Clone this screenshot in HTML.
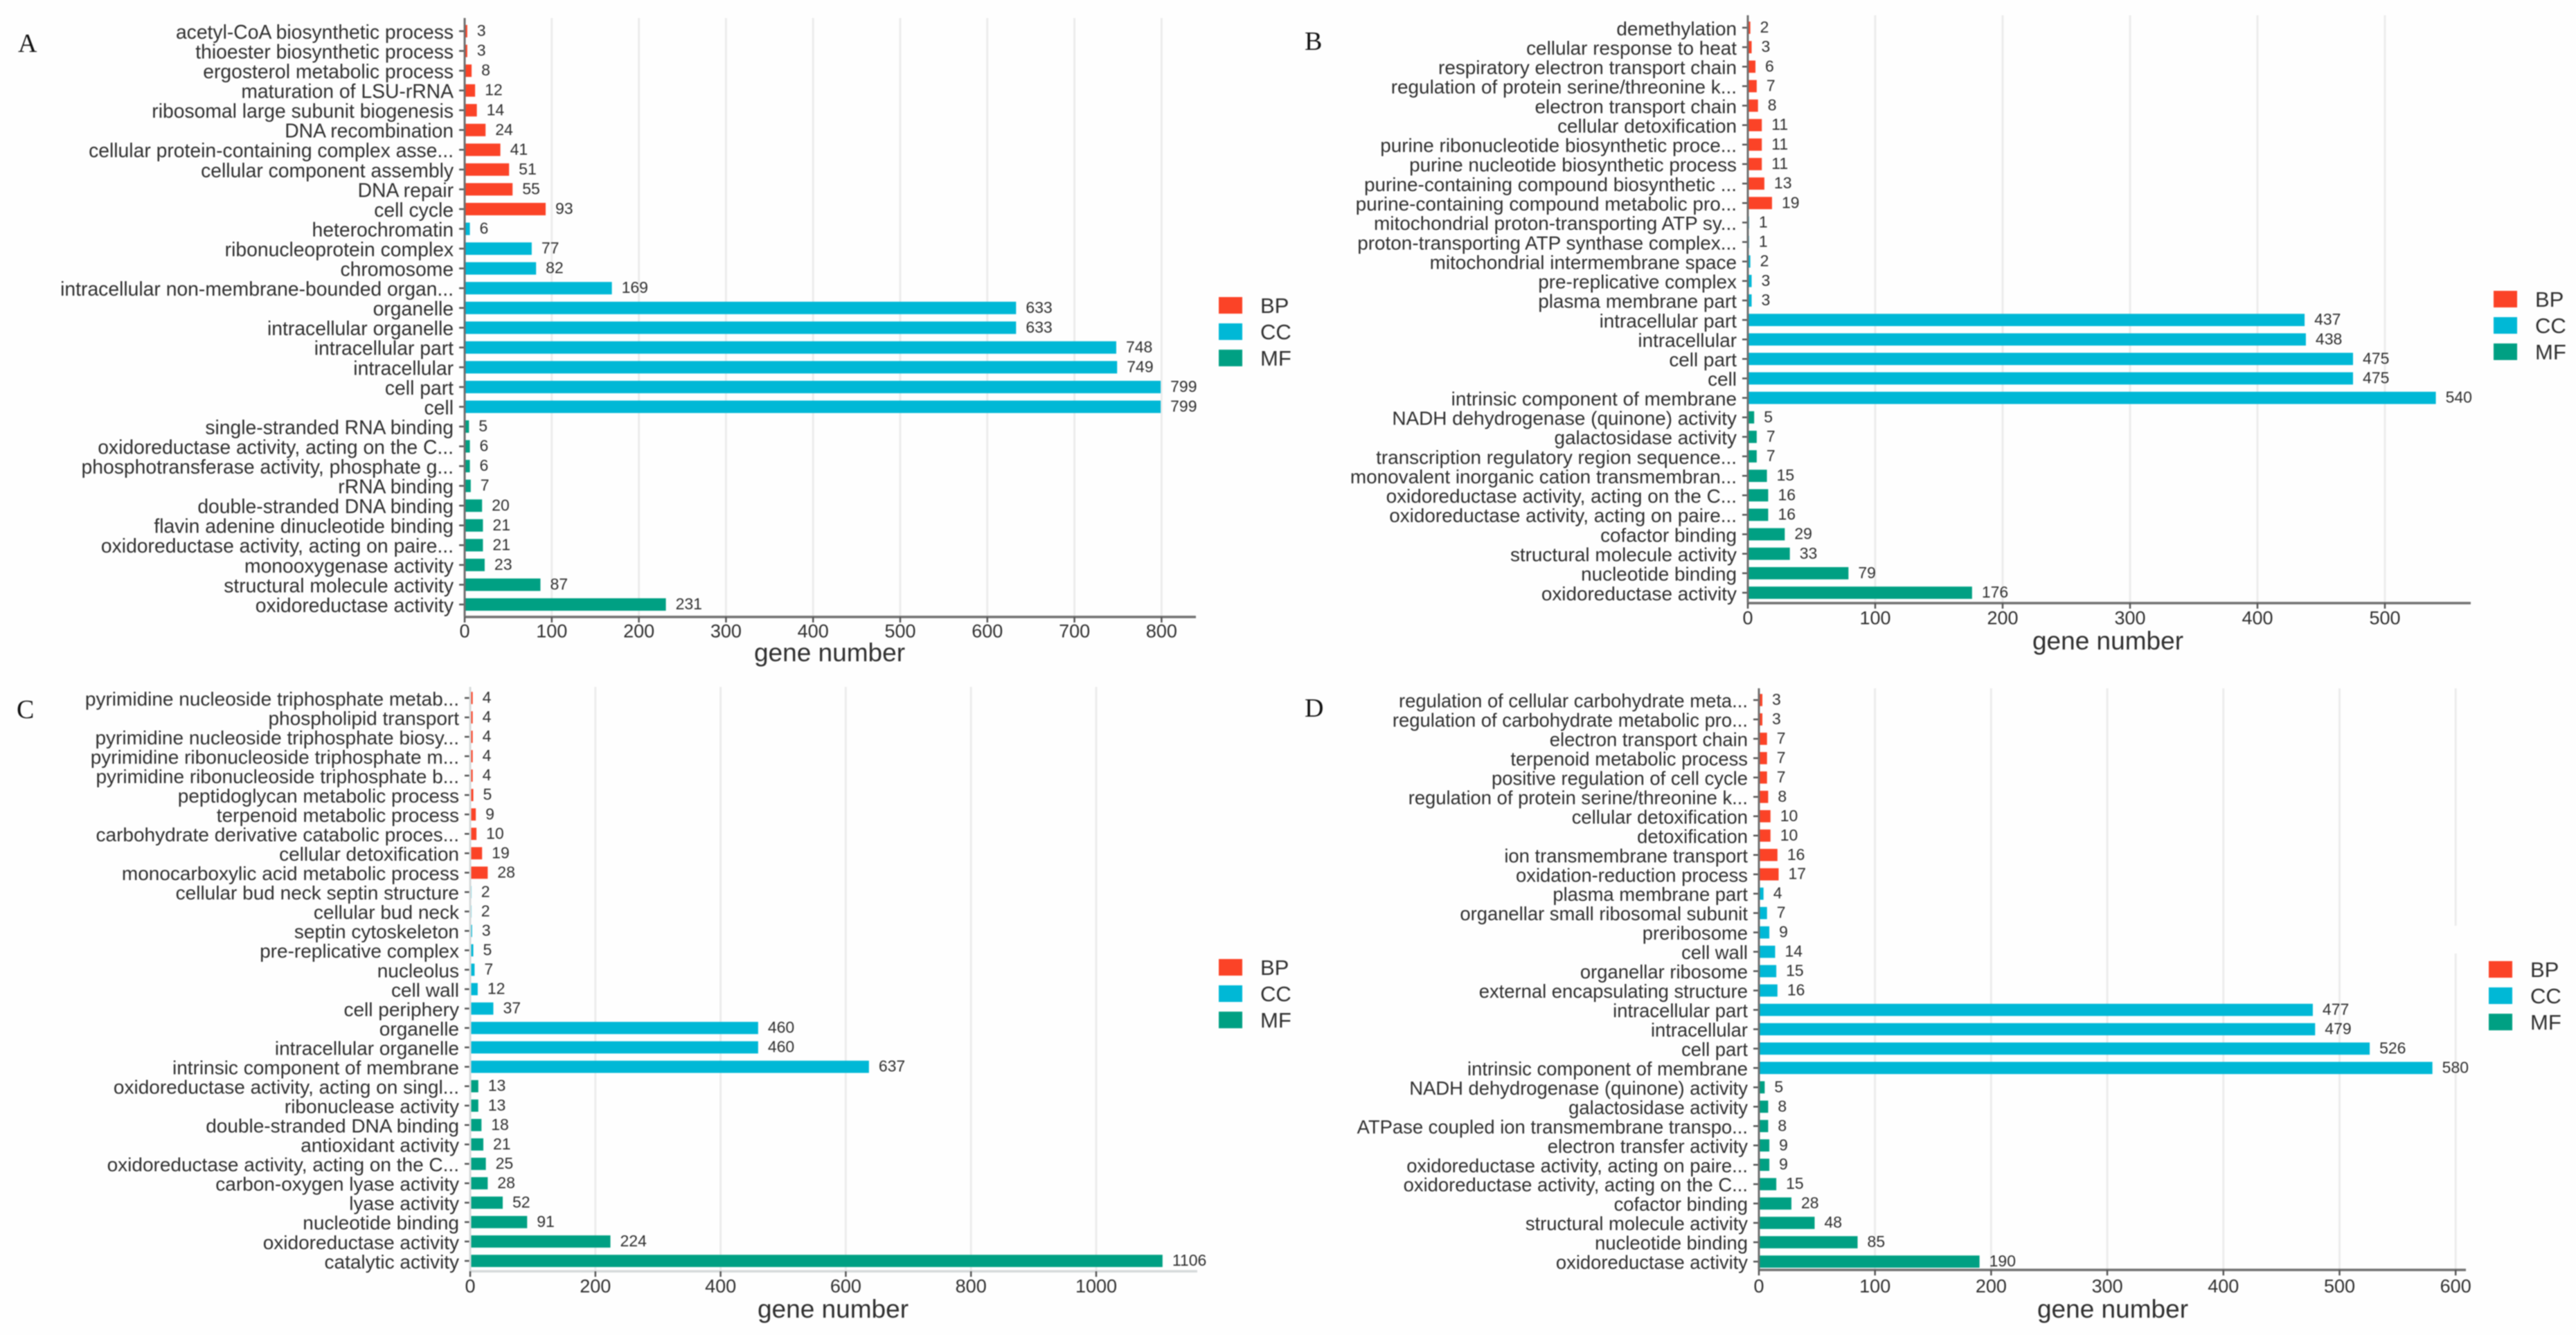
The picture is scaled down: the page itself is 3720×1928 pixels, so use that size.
<!DOCTYPE html>
<html lang="en">
<head>
<meta charset="utf-8">
<title>GO enrichment bar charts</title>
<style>
html,body{margin:0;padding:0;background:#fff;width:3720px;height:1928px;overflow:hidden}
svg{display:block;filter:blur(.8px)}
text{font-family:"Liberation Sans",sans-serif;fill:#2f2f2f}
</style>
</head>
<body>
<svg id="figure" xmlns="http://www.w3.org/2000/svg" width="3720" height="1928" viewBox="0 0 3720 1928">
<rect width="3720" height="1928" fill="#fefefe"/>
</svg>
<script>
const bpCategoriesA = ["acetyl-CoA biosynthetic process","thioester biosynthetic process","ergosterol metabolic process","maturation of LSU-rRNA","ribosomal large subunit biogenesis","DNA recombination","cellular protein-containing complex asse...","cellular component assembly","DNA repair","cell cycle"];
const bpValuesA = [3,3,8,12,14,24,41,51,55,93];
const ccCategoriesA = ["heterochromatin","ribonucleoprotein complex","chromosome","intracellular non-membrane-bounded organ...","organelle","intracellular organelle","intracellular part","intracellular","cell part","cell"];
const ccValuesA = [6,77,82,169,633,633,748,749,799,799];
const mfCategoriesA = ["single-stranded RNA binding","oxidoreductase activity, acting on the C...","phosphotransferase activity, phosphate g...","rRNA binding","double-stranded DNA binding","flavin adenine dinucleotide binding","oxidoreductase activity, acting on paire...","monooxygenase activity","structural molecule activity","oxidoreductase activity"];
const mfValuesA = [5,6,6,7,20,21,21,23,87,231];
const ticksA = [0,100,200,300,400,500,600,700,800];

const bpCategoriesB = ["demethylation","cellular response to heat","respiratory electron transport chain","regulation of protein serine/threonine k...","electron transport chain","cellular detoxification","purine ribonucleotide biosynthetic proce...","purine nucleotide biosynthetic process","purine-containing compound biosynthetic ...","purine-containing compound metabolic pro..."];
const bpValuesB = [2,3,6,7,8,11,11,11,13,19];
const ccCategoriesB = ["mitochondrial proton-transporting ATP sy...","proton-transporting ATP synthase complex...","mitochondrial intermembrane space","pre-replicative complex","plasma membrane part","intracellular part","intracellular","cell part","cell","intrinsic component of membrane"];
const ccValuesB = [1,1,2,3,3,437,438,475,475,540];
const mfCategoriesB = ["NADH dehydrogenase (quinone) activity","galactosidase activity","transcription regulatory region sequence...","monovalent inorganic cation transmembran...","oxidoreductase activity, acting on the C...","oxidoreductase activity, acting on paire...","cofactor binding","structural molecule activity","nucleotide binding","oxidoreductase activity"];
const mfValuesB = [5,7,7,15,16,16,29,33,79,176];
const ticksB = [0,100,200,300,400,500];

const bpCategoriesC = ["pyrimidine nucleoside triphosphate metab...","phospholipid transport","pyrimidine nucleoside triphosphate biosy...","pyrimidine ribonucleoside triphosphate m...","pyrimidine ribonucleoside triphosphate b...","peptidoglycan metabolic process","terpenoid metabolic process","carbohydrate derivative catabolic proces...","cellular detoxification","monocarboxylic acid metabolic process"];
const bpValuesC = [4,4,4,4,4,5,9,10,19,28];
const ccCategoriesC = ["cellular bud neck septin structure","cellular bud neck","septin cytoskeleton","pre-replicative complex","nucleolus","cell wall","cell periphery","organelle","intracellular organelle","intrinsic component of membrane"];
const ccValuesC = [2,2,3,5,7,12,37,460,460,637];
const mfCategoriesC = ["oxidoreductase activity, acting on singl...","ribonuclease activity","double-stranded DNA binding","antioxidant activity","oxidoreductase activity, acting on the C...","carbon-oxygen lyase activity","lyase activity","nucleotide binding","oxidoreductase activity","catalytic activity"];
const mfValuesC = [13,13,18,21,25,28,52,91,224,1106];
const ticksC = [0,200,400,600,800,1000];

const bpCategoriesD = ["regulation of cellular carbohydrate meta...","regulation of carbohydrate metabolic pro...","electron transport chain","terpenoid metabolic process","positive regulation of cell cycle","regulation of protein serine/threonine k...","cellular detoxification","detoxification","ion transmembrane transport","oxidation-reduction process"];
const bpValuesD = [3,3,7,7,7,8,10,10,16,17];
const ccCategoriesD = ["plasma membrane part","organellar small ribosomal subunit","preribosome","cell wall","organellar ribosome","external encapsulating structure","intracellular part","intracellular","cell part","intrinsic component of membrane"];
const ccValuesD = [4,7,9,14,15,16,477,479,526,580];
const mfCategoriesD = ["NADH dehydrogenase (quinone) activity","galactosidase activity","ATPase coupled ion transmembrane transpo...","electron transfer activity","oxidoreductase activity, acting on paire...","oxidoreductase activity, acting on the C...","cofactor binding","structural molecule activity","nucleotide binding","oxidoreductase activity"];
const mfValuesD = [5,8,8,9,9,15,28,48,85,190];
const ticksD = [0,100,200,300,400,500,600];

const legendKeys = ["BP","CC","MF"];
const legendColors = ["#fb4327","#00b8d6","#00a083"];

const svgNS = "http://www.w3.org/2000/svg";
const root = document.getElementById("figure");

function node(tag, parent) {
  const el = document.createElementNS(svgNS, tag);
  parent.appendChild(el);
  return el;
}

function drawPanel(cfg) {
  const xScale = v => cfg.x0 + v * cfg.pxPerUnit;
  const cats = [].concat(cfg.bpCats, cfg.ccCats, cfg.mfCats);
  const vals = [].concat(cfg.bpVals, cfg.ccVals, cfg.mfVals);
  const yScale = i => cfg.yFirst + i * (cfg.yLast - cfg.yFirst) / (cats.length - 1);
  const colorOf = i => i < cfg.bpCats.length ? legendColors[0] : i < cfg.bpCats.length + cfg.ccCats.length ? legendColors[1] : legendColors[2];
  const rowH = (cfg.yLast - cfg.yFirst) / (cats.length - 1);
  const barH = rowH * 0.63;

  const g = node("g", root);
  
  

  const letter = node("text", g);
  
  
  letter.setAttribute("x", cfg.letterX);
  letter.setAttribute("y", cfg.letterY);
  letter.setAttribute("style", 'font-family:"Liberation Serif",serif;font-size:38px;fill:#111');
  letter.textContent = cfg.id;

  cfg.ticks.forEach(t => {
    if (t === 0) return;
    const grid = node("line", g);
    
    
    grid.setAttribute("x1", xScale(t));
    grid.setAttribute("x2", xScale(t));
    grid.setAttribute("y1", cfg.axisTop);
    grid.setAttribute("y2", cfg.axisY);
    grid.setAttribute("stroke", "#ececec");
    grid.setAttribute("stroke-width", "3");
  });

  if (cfg.gridGap) {
    const gap = node("rect", g);
    
    
    gap.setAttribute("x", xScale(cfg.gridGap.tick) - 4);
    gap.setAttribute("y", cfg.gridGap.top);
    gap.setAttribute("width", 8);
    gap.setAttribute("height", cfg.gridGap.height);
    gap.setAttribute("fill", "#fefefe");
  }

  cats.forEach((c, i) => {
    const y = yScale(i);
    const bar = node("rect", g);
    
    
    bar.setAttribute("x", xScale(0));
    bar.setAttribute("y", y - barH / 2);
    bar.setAttribute("width", xScale(vals[i]) - xScale(0));
    bar.setAttribute("height", barH);
    bar.setAttribute("fill", colorOf(i));

    const tick = node("line", g);
    
    
    tick.setAttribute("x1", cfg.x0 - 8);
    tick.setAttribute("x2", cfg.x0);
    tick.setAttribute("y1", y);
    tick.setAttribute("y2", y);
    tick.setAttribute("stroke", "#555");
    tick.setAttribute("stroke-width", "2.5");

    const label = node("text", g);
    
    
    label.setAttribute("x", cfg.x0 - 16);
    label.setAttribute("y", y + 1);
    label.setAttribute("dy", "0.35em");
    label.setAttribute("text-anchor", "end");
    label.setAttribute("font-size", cfg.labelSize);
    label.textContent = c;

    const value = node("text", g);
    
    
    value.setAttribute("x", xScale(vals[i]) + 14);
    value.setAttribute("y", y - 1);
    value.setAttribute("dy", "0.35em");
    value.setAttribute("font-size", cfg.valueSize);
    value.textContent = vals[i];
  });

  const yAxis = node("line", g);
  
  
  yAxis.setAttribute("x1", cfg.x0);
  yAxis.setAttribute("x2", cfg.x0);
  yAxis.setAttribute("y1", cfg.axisTop);
  yAxis.setAttribute("y2", cfg.axisY);
  yAxis.setAttribute("stroke", cfg.axisColor);
  yAxis.setAttribute("stroke-width", "3");

  const xAxis = node("line", g);
  
  
  xAxis.setAttribute("x1", cfg.x0);
  xAxis.setAttribute("x2", cfg.axisRight);
  xAxis.setAttribute("y1", cfg.axisY);
  xAxis.setAttribute("y2", cfg.axisY);
  xAxis.setAttribute("stroke", cfg.axisColor);
  xAxis.setAttribute("stroke-width", "3.5");

  cfg.ticks.forEach(t => {
    const mark = node("line", g);
    
    
    mark.setAttribute("x1", xScale(t));
    mark.setAttribute("x2", xScale(t));
    mark.setAttribute("y1", cfg.axisY);
    mark.setAttribute("y2", cfg.axisY + 8);
    mark.setAttribute("stroke", "#555");
    mark.setAttribute("stroke-width", "2.5");

    const tl = node("text", g);
    
    
    tl.setAttribute("x", xScale(t));
    tl.setAttribute("y", cfg.tickLabelY);
    tl.setAttribute("dy", "0.35em");
    tl.setAttribute("text-anchor", "middle");
    tl.setAttribute("font-size", cfg.tickSize);
    tl.textContent = t;
  });

  const title = node("text", g);
  
  
  title.setAttribute("x", cfg.titleX);
  title.setAttribute("y", cfg.titleY);
  title.setAttribute("dy", "0.35em");
  title.setAttribute("text-anchor", "middle");
  title.setAttribute("font-size", cfg.titleSize);
  title.textContent = "gene number";

  legendKeys.forEach((k, i) => {
    const swatch = node("rect", g);
    
    
    swatch.setAttribute("x", cfg.legendX);
    swatch.setAttribute("y", cfg.legendY + i * cfg.legendStep - 12);
    swatch.setAttribute("width", 34);
    swatch.setAttribute("height", 24);
    swatch.setAttribute("fill", legendColors[i]);

    const lt = node("text", g);
    
    
    lt.setAttribute("x", cfg.legendX + 60);
    lt.setAttribute("y", cfg.legendY + i * cfg.legendStep);
    lt.setAttribute("dy", "0.35em");
    lt.setAttribute("font-size", 31);
    lt.textContent = k;
  });
}

drawPanel({id:"A",bpCats:bpCategoriesA,bpVals:bpValuesA,ccCats:ccCategoriesA,ccVals:ccValuesA,mfCats:mfCategoriesA,mfVals:mfValuesA,ticks:ticksA,
  x0:671,pxPerUnit:1.258,yFirst:45,yLast:873,axisTop:26,axisY:891,axisRight:1727,tickLabelY:911,titleX:1198,titleY:942,axisColor:"#707070",
  legendX:1760,legendY:441,legendStep:38,letterX:26,letterY:75,labelSize:28.3,valueSize:23,tickSize:27,titleSize:37});
drawPanel({id:"B",bpCats:bpCategoriesB,bpVals:bpValuesB,ccCats:ccCategoriesB,ccVals:ccValuesB,mfCats:mfCategoriesB,mfVals:mfValuesB,ticks:ticksB,
  x0:2524,pxPerUnit:1.84,yFirst:40,yLast:856,axisTop:22,axisY:871,axisRight:3568,tickLabelY:892,titleX:3044,titleY:925,axisColor:"#707070",
  legendX:3601,legendY:432,legendStep:38,letterX:1884,letterY:72,labelSize:27.9,valueSize:23,tickSize:27,titleSize:37});
drawPanel({id:"C",bpCats:bpCategoriesC,bpVals:bpValuesC,ccCats:ccCategoriesC,ccVals:ccValuesC,mfCats:mfCategoriesC,mfVals:mfValuesC,ticks:ticksC,
  x0:679,pxPerUnit:0.904,yFirst:1008,yLast:1821,axisTop:992,axisY:1836,axisRight:1729,tickLabelY:1857,titleX:1203,titleY:1890,axisColor:"#d6dadb",
  legendX:1760,legendY:1397,legendStep:38,letterX:24,letterY:1037,labelSize:28,valueSize:23,tickSize:27,titleSize:37});
drawPanel({id:"D",bpCats:bpCategoriesD,bpVals:bpValuesD,ccCats:ccCategoriesD,ccVals:ccValuesD,mfCats:mfCategoriesD,mfVals:mfValuesD,ticks:ticksD,
  x0:2540,pxPerUnit:1.677,yFirst:1011,yLast:1822,axisTop:994,axisY:1834,axisRight:3561,tickLabelY:1857,titleX:3051,titleY:1890,axisColor:"#707070",
  gridGap:{tick:600,top:1337,height:40},
  legendX:3594,legendY:1400,legendStep:38,letterX:1884,letterY:1035,labelSize:27.4,valueSize:23,tickSize:27,titleSize:37});
</script>
</body>
</html>
